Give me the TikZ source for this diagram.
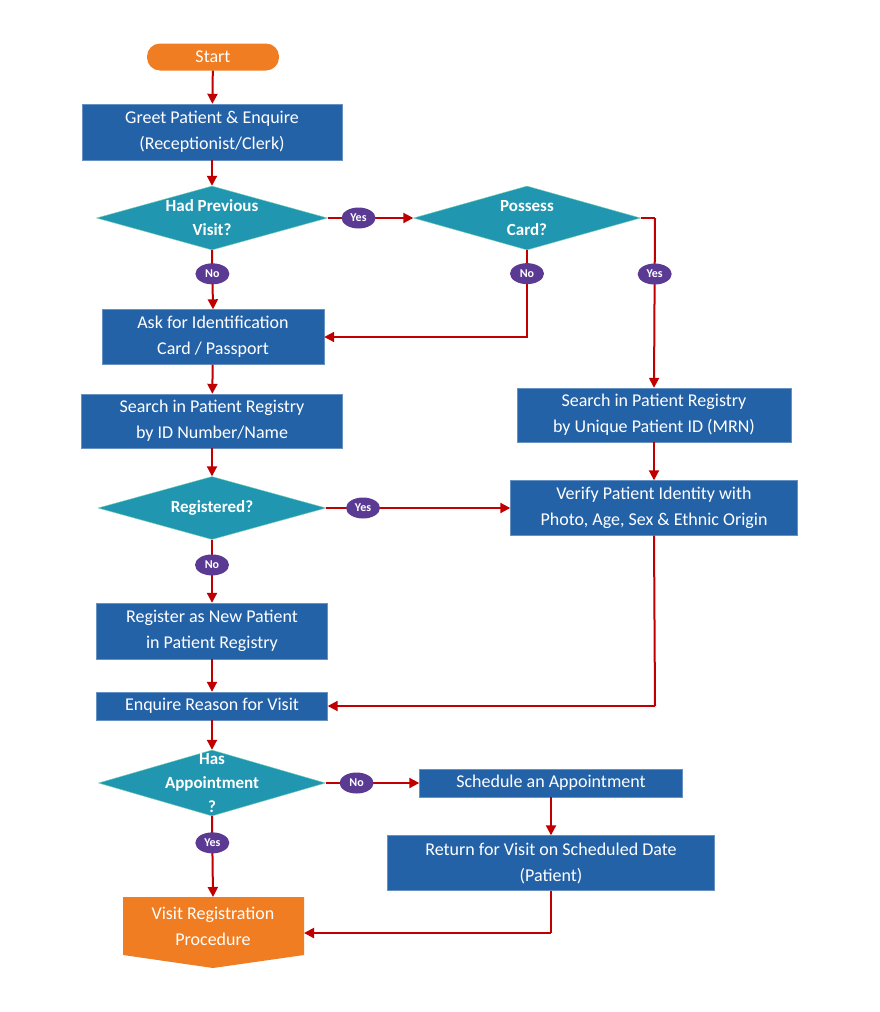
\documentclass[tikz,border=0pt]{standalone}
\usepackage{fontspec}
\setmainfont{Carlito}
\usetikzlibrary{shapes.geometric,arrows.meta}
\definecolor{bx}{HTML}{2462A8}
\definecolor{dm}{HTML}{2196B0}
\definecolor{og}{HTML}{F07D22}
\definecolor{ar}{HTML}{C00000}
\definecolor{pl}{HTML}{5B3A93}
\begin{document}
\begin{tikzpicture}[x=1pt,y=-1pt,
 box/.style={fill=bx,draw=bx!70!white,text=white,font=\fontsize{18}{26}\selectfont,align=center,inner sep=0pt},
 dia/.style={diamond,aspect=3.6,fill=dm,draw=green!30!dm!60!white,text=white,font=\bfseries\fontsize{17}{24}\selectfont,align=center,inner sep=0pt},
 lab/.style={ellipse,fill=pl,text=white,font=\bfseries\fontsize{12}{12}\selectfont,minimum width=34pt,minimum height=21pt,inner sep=0pt},
 arr/.style={draw=ar,line width=2pt,-{Triangle[length=10pt,width=10pt]}},
 ln/.style={draw=ar,line width=2pt}]
\fill[white] (0,0) rectangle (880,1012);
\useasboundingbox (0,0) rectangle (880,1012);
\node[rounded corners=13pt,fill=og,text=white,font=\fontsize{18}{22}\selectfont,minimum width=132pt,minimum height=27pt] (start) at (213,57) {Start};
\node[box,minimum width=260pt,minimum height=56pt] (greet) at (212,132) {Greet Patient \& Enquire\\(Receptionist/Clerk)};
\node[dia,minimum width=231pt,minimum height=64pt] (d1) at (212,218) {};
\node[text=white,font=\bfseries\fontsize{17}{24}\selectfont,align=center] (d1t) at (212,218) {Had Previous\\Visit?};
\node[dia,minimum width=227pt,minimum height=64pt] (d2) at (527,218) {};
\node[text=white,font=\bfseries\fontsize{17}{24}\selectfont,align=center] (d2t) at (527,218) {Possess\\Card?};
\node[box,minimum width=222pt,minimum height=55pt] (ask) at (213,337) {Ask for Identification\\Card / Passport};
\node[box,minimum width=261pt,minimum height=54pt] (sl) at (212,421) {Search in Patient Registry\\by ID Number/Name};
\node[box,minimum width=274pt,minimum height=54pt] (sr) at (654,415) {Search in Patient Registry\\by Unique Patient ID (MRN)};
\node[box,minimum width=287pt,minimum height=55pt] (ver) at (654,508) {Verify Patient Identity with\\Photo, Age, Sex \& Ethnic Origin};
\node[dia,minimum width=228pt,minimum height=63pt] (d3) at (212,508) {};
\node[text=white,font=\bfseries\fontsize{17}{24}\selectfont] (d3t) at (212,508) {Registered?};
\node[box,minimum width=231pt,minimum height=56pt] (reg) at (212,631) {Register as New Patient\\in Patient Registry};
\node[box,minimum width=231pt,minimum height=28pt] (enq) at (212,706) {Enquire Reason for Visit};
\node[dia,minimum width=227pt,minimum height=66pt] (d4) at (212,783) {};
\node[text=white,font=\bfseries\fontsize{17}{24}\selectfont,align=center] (d4t) at (212,783) {Has\\Appointment\\?};
\node[box,minimum width=263pt,minimum height=28pt] (sch) at (551,783) {Schedule an Appointment};
\node[box,minimum width=327pt,minimum height=55pt] (ret) at (551,863) {Return for Visit on Scheduled Date\\(Patient)};
\fill[og] (123,897) -- (304,897) -- (304,955) -- (213,968) -- (123,955) -- cycle;
\node[text=white,font=\fontsize{18}{26}\selectfont,align=center] (vis) at (213,926) {Visit Registration\\Procedure};
\coordinate (visr) at (304,933);
\coordinate (c1) at (527,337);
\coordinate (c2) at (655,218);
\coordinate (c3) at (655,706);
\coordinate (c4) at (551,933);
% connectors
\draw[arr] (start) -- (greet);
\draw[arr] (greet) -- (d1);
\draw[arr] (d1.east) -- (d2.west) node[lab,pos=0.36] {Yes};
\draw[arr] (d1.south) -- (ask.north) node[lab,pos=0.4] {No};
\draw[arr] (d2.south) -- (c1) node[lab,pos=0.27] {No} -- (ask.east);
\draw[ln] (d2.east) -- (c2);
\draw[arr] (c2) -- (sr.north) node[lab,pos=0.33] {Yes};
\draw[arr] (ask) -- (sl);
\draw[arr] (sl) -- (d3);
\draw[arr] (sr) -- (ver);
\draw[arr] (d3.east) -- (ver.west) node[lab,pos=0.2] {Yes};
\draw[arr] (d3.south) -- (reg.north) node[lab,pos=0.4] {No};
\draw[arr] (reg) -- (enq);
\draw[ln] (ver.south) -- (c3);
\draw[arr] (c3) -- (enq.east);
\draw[arr] (enq) -- (d4);
\draw[arr] (d4.east) -- (sch.west) node[lab,pos=0.33] {No};
\draw[arr] (sch) -- (ret);
\draw[arr] (d4.south) -- (213,897) node[lab,pos=0.33] {Yes};
\draw[ln] (ret.south) -- (c4);
\draw[arr] (c4) -- (visr);
\end{tikzpicture}
\end{document}
